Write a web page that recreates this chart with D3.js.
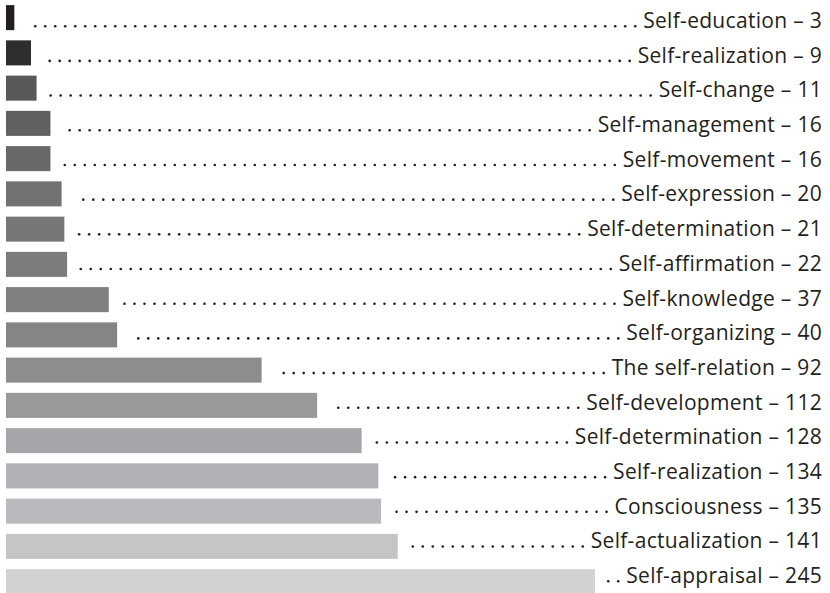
<!DOCTYPE html>
<html>
<head>
<meta charset="utf-8">
<script src="https://cdn.jsdelivr.net/npm/d3@7"></script>
<style>
  body { margin: 0; background: #fff; }
  text { font-family: "Open Sans", "Noto Sans", sans-serif; }
</style>
</head>
<body>
<div id="chart"></div>
<script>
// Data
var names = ["Self-education", "Self-realization", "Self-change", "Self-management",
  "Self-movement", "Self-expression", "Self-determination", "Self-affirmation",
  "Self-knowledge", "Self-organizing", "The self-relation", "Self-development",
  "Self-determination", "Self-realization", "Consciousness", "Self-actualization",
  "Self-appraisal"];
var values = [3, 9, 11, 16, 16, 20, 21, 22, 37, 40, 92, 112, 128, 134, 135, 141, 245];
var shades = ["#231f20", "#2e2d2f", "#58585a", "#616163", "#69696c", "#727275",
  "#77777a", "#7c7c7f", "#808083", "#858588", "#8d8d90", "#99999c", "#a5a6a9",
  "#b0b1b4", "#b9babd", "#c4c5c7", "#d1d2d4"];

var width = 830, height = 593;
var left = 6, labelRight = 822;

var svg = d3.select("#chart")
  .append("svg")
  .attr("width", width)
  .attr("height", height);

// the long last bar is cut short in the original, so clamp
var x = d3.scaleLinear()
  .domain([0, 212])
  .range([0, 589])
  .clamp(true);

// bars
var y = d3.scaleBand()
  .domain(d3.range(names.length))
  .range([0, 17 * 35.25])
  .paddingInner(0.29)
  .paddingOuter(0.145);

// label baselines run on a slightly tighter pitch than the bars
var yText = d3.scalePoint()
  .domain(d3.range(names.length))
  .range([28, 583]);

svg.selectAll(".bar")
  .data(values)
  .enter()
  .append("rect")
  .attr("class", "bar")
  .attr("x", left)
  .attr("y", function (d, i) { return y(i); })
  .attr("width", function (d) { return x(d); })
  .attr("height", y.bandwidth())
  .attr("fill", function (d, i) { return shades[i]; });

var labels = svg.selectAll(".label")
  .data(values)
  .enter()
  .append("text")
  .attr("class", "label")
  .attr("x", labelRight)
  .attr("y", function (d, i) { return yText(i); })
  .attr("text-anchor", "end")
  .style("font-size", "21px")
  .style("letter-spacing", "0.3px")
  .style("fill", "#231f20")
  .text(function (d, i) { return names[i] + " \u2013 " + d; });

// Dotted leaders from bar end to label
labels.each(function (d, i) {
  var textStart = labelRight - this.getComputedTextLength();
  var barEnd = left + x(d);
  var dots = [];
  for (var cx = textStart - 8; cx > barEnd + 13; cx -= 10) dots.push(cx);
  svg.append("g")
    .selectAll("circle")
    .data(dots)
    .enter()
    .append("circle")
    .attr("cx", function (c) { return c; })
    .attr("cy", yText(i) - 1.8)
    .attr("r", 1.3)
    .attr("fill", "#231f20");
});
</script>
</body>
</html>
